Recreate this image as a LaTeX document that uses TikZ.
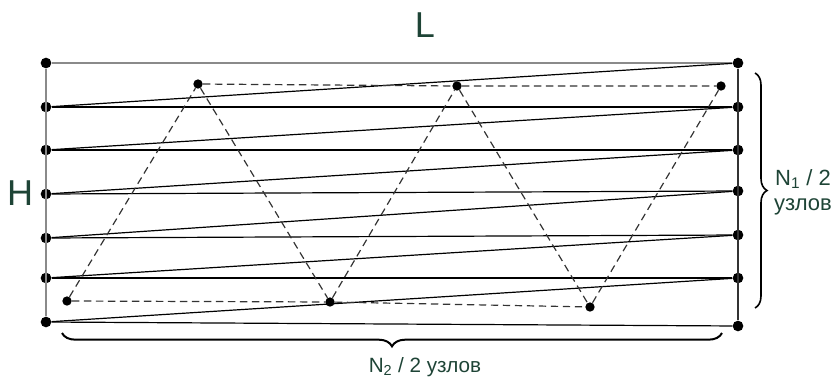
\documentclass[tikz,border=0pt]{standalone}
\usepackage{fontspec}
\setmainfont{Liberation Sans}
\usetikzlibrary{positioning,calc,decorations.pathreplacing}
\definecolor{cgreen}{HTML}{1E4436}
\definecolor{cgray}{HTML}{8A8A8A}
\definecolor{cdash}{HTML}{333333}

\begin{document}
\begin{tikzpicture}[x=0.75pt,y=-0.75pt,
  dot/.style={circle,fill=black,inner sep=0pt,minimum size=8pt},
  sdot/.style={circle,fill=black,inner sep=0pt,minimum size=7pt},
  wire/.style={black,line width=0.9pt},
  zig/.style={cdash,line width=0.9pt,dash pattern=on 5.5pt off 3.5pt},
  lbl/.style={text=cgreen,inner sep=0pt}]
  \useasboundingbox (0,0) rectangle (835,379);
  % nodes on the two sides
  \foreach \i/\yl/\yr in {0/63/63,1/107/107,2/150/150,3/194/191,4/238/235,5/278/278,6/322/326}{
    \node[dot] (l\i) at (46,\yl) {};
    \node[dot] (r\i) at (738,\yr) {};
  }
  \draw[cgray,line width=1pt] (l0) -- (l6);
  \draw[cdash,line width=0.9pt] (r0) -- (r6);
  \draw[cgray,line width=1.1pt] (l0) -- (r0);
  \foreach \i [remember=\i as \j (initially 0)] in {1,...,6}{
    \draw[wire] (l\i) -- (r\i);
    \draw[wire] (l\i) -- (r\j);
  }
  % dashed zig-zag
  \foreach \n/\x/\y in {1/67/301,2/198/84,3/330/302,4/457/86,5/590/307,6/721/86}
    \node[sdot] (d\n) at (\x,\y) {};
  \draw[zig] (d1) -- (d2) -- (d3) -- (d4) -- (d5) -- (d6);
  \draw[zig] (d2) -- (d4) -- (d6);
  \draw[zig] (d1) -- (d3) -- (d5);
  % braces
  \draw[line width=1.2pt,decorate,decoration={brace,amplitude=9pt}] (755,73) -- (755,308);
  \draw[line width=1.5pt,decorate,decoration={brace,amplitude=10pt}] (722,333) -- (62,333);
  % labels
  \node[lbl,font=\fontsize{27}{30}\selectfont] (L) at (425,25) {L};
  \node[lbl,font=\fontsize{27}{30}\selectfont] (H) at (20,193) {H};
  \node[lbl,font=\fontsize{16.5}{19}\selectfont,align=center] (N1) at (803,192) {N\textsubscript{1} / 2\\узлов};
  \node[lbl,font=\fontsize{15.5}{18}\selectfont] (N2) at (425,367) {N\textsubscript{2} / 2 узлов};
\end{tikzpicture}
\end{document}
